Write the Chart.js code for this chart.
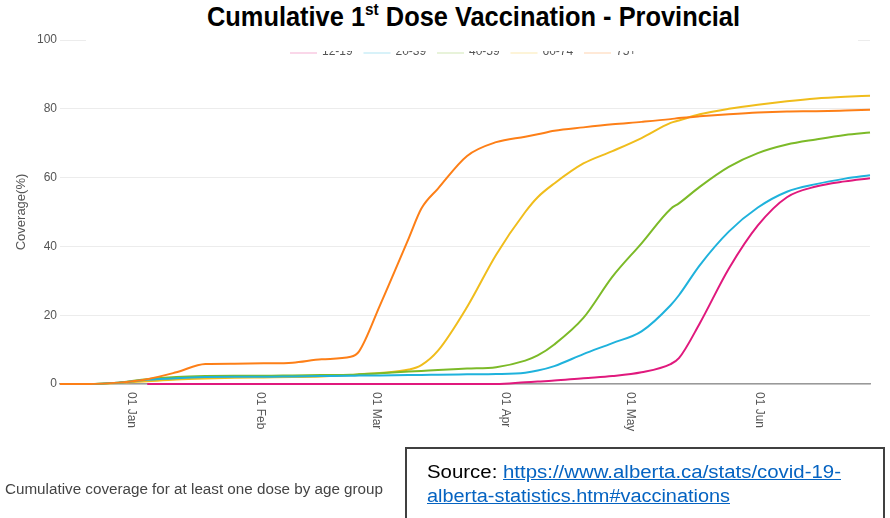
<!DOCTYPE html>
<html>
<head>
<meta charset="utf-8">
<script src="https://cdn.jsdelivr.net/npm/chart.js@4.4.1/dist/chart.umd.min.js"></script>
<style>
  html, body { margin: 0; padding: 0; background: #fff; }
  #wrap { position: relative; width: 890px; height: 518px; overflow: hidden; }
  #chart { position: absolute; left: 0; top: 0; }
  #titleBox { position: absolute; left: 86px; top: 0; width: 772px; height: 51px; background: #fff; }
  #title { position: absolute; left: 207px; top: 1px; white-space: nowrap; transform-origin: 0 0;
           font: bold 28px "Liberation Sans", Arial, sans-serif; color: #000; }
  #title sup { font-size: 17px; vertical-align: 0; position: relative; top: -11px; }
  #caption { position: absolute; left: 5px; top: 481px; white-space: nowrap; transform-origin: 0 0;
             font: 14px "Liberation Sans", Arial, sans-serif; color: #444; }
  #source { position: absolute; left: 405px; top: 447px; width: 480px; height: 90px;
            border: 2px solid #404040; box-sizing: border-box; }
  .src { position: absolute; left: 20px; white-space: nowrap; transform-origin: 0 0;
         font: 18px "Liberation Sans", Arial, sans-serif; color: #000; }
  .src a { color: #0563c1; text-decoration: underline; }
</style>
</head>
<body>
<div id="wrap">
  <canvas id="chart" width="890" height="518"></canvas>
  <div id="titleBox"></div>
  <div id="title">Cumulative 1<sup>st</sup> Dose Vaccination - Provincial</div>
  <div id="caption">Cumulative coverage for at least one dose by age group</div>
  <div id="source">
    <div class="src" id="src1" style="top:13px">Source: <a href="#">https://www.alberta.ca/stats/covid-19-</a></div>
    <div class="src" id="src2" style="top:37px"><a href="#">alberta-statistics.htm#vaccinations</a></div>
  </div>
</div>
<script>
// sample dates (mostly weekly)
const dates = ['2020-12-15','2020-12-22','2020-12-29','2021-01-05','2021-01-12','2021-01-19','2021-01-26',
  '2021-02-02','2021-02-09','2021-02-16','2021-02-23','2021-02-25','2021-03-02','2021-03-09','2021-03-12',
  '2021-03-16','2021-03-23','2021-03-30','2021-04-06','2021-04-09','2021-04-13','2021-04-20','2021-04-27',
  '2021-05-04','2021-05-11','2021-05-13','2021-05-18','2021-05-25','2021-06-01','2021-06-08','2021-06-15',
  '2021-06-22','2021-06-28'];

const ageGroups = ['12-19', '20-39', '40-59', '60-74', '75+'];
const colors = ['#e0197d', '#1fb2dc', '#7cba28', '#f0bd1c', '#fd7f17'];
const drawOrder = [0, 0, 0, 0, -1]; // 75+ sits on top of the others

const age12 = [null,null,null,0,0,0,0,0,0,0,0,0,0,0,0,0,0,0,0.5,0.7,1.0,1.7,2.3,3.4,5.8,7.5,17.6,33.5,46.1,54.3,57.4,58.9,59.8];
const age20 = [0,0,0.4,1.2,1.7,2.0,2.1,2.1,2.2,2.3,2.4,2.45,2.5,2.6,2.65,2.7,2.8,2.9,3.3,3.9,5.2,8.7,11.9,15.3,22.9,25.8,34.5,44.3,51.3,55.9,58.1,59.7,60.7];
const age40 = [0,0,0.4,1.4,2.0,2.3,2.4,2.4,2.5,2.6,2.7,2.8,3.1,3.6,3.8,4.1,4.5,4.9,6.8,8.3,11.5,19.2,31.2,40.9,50.9,52.5,57.3,63.1,67.1,69.6,71.1,72.4,73.1];
const age60 = [0,0,0.3,0.8,1.3,1.6,1.8,1.9,2.0,2.2,2.6,2.8,3.2,4.2,5.5,9.7,22.4,37.6,50.0,54.3,58.3,64.1,67.7,71.5,75.9,76.6,78.4,80.0,81.2,82.2,83.0,83.5,83.8];
const age75 = [0,0,0.4,1.4,3.4,5.8,5.9,6.0,6.2,7.2,7.9,9.5,22.8,42.5,51.0,56.8,66.3,70.3,71.9,72.6,73.6,74.6,75.5,76.2,77.0,77.3,77.8,78.4,78.9,79.2,79.3,79.5,79.7];

const tickDates = ['2021-01-01','2021-02-01','2021-03-01','2021-04-01','2021-05-01','2021-06-01'];
const tickLabels = ['01 Jan','01 Feb','01 Mar','01 Apr','01 May','01 Jun'];

const startDay = Date.UTC(2020, 11, 15);
function dayOf(s) {
  return (Date.parse(s + 'T00:00:00Z') - startDay) / 86400000;
}

const series = [age12, age20, age40, age60, age75];
const datasets = series.map((vals, i) => ({
  label: ageGroups[i],
  data: vals.map((v, j) => ({ x: dayOf(dates[j]), y: v })),
  borderColor: colors[i],
  backgroundColor: colors[i],
  borderWidth: 2,
  pointRadius: 0,
  cubicInterpolationMode: 'monotone',
  clip: false,
  order: drawOrder[i],
  fill: false
}));

// rotated date labels (read top to bottom) and the faint legend
const extras = {
  id: 'extras',
  afterDraw(chart) {
    const ctx = chart.ctx;
    const xs = chart.scales.x;
    const bottom = chart.chartArea.bottom;
    ctx.save();
    ctx.font = '12px "Liberation Sans", Arial, sans-serif';
    ctx.fillStyle = '#555';
    ctx.textAlign = 'left';
    ctx.textBaseline = 'middle';
    tickDates.forEach((d, i) => {
      const px = xs.getPixelForValue(dayOf(d));
      ctx.save();
      ctx.translate(px + 1, bottom + 8);
      ctx.rotate(Math.PI / 2);
      ctx.fillText(tickLabels[i], 0, 0);
      ctx.restore();
    });

    let lx = 290;
    const ly = 53;
    chart.data.datasets.forEach((ds) => {
      ctx.globalAlpha = 0.35;
      ctx.strokeStyle = ds.borderColor;
      ctx.lineWidth = 1;
      ctx.beginPath();
      ctx.moveTo(lx, ly);
      ctx.lineTo(lx + 27, ly);
      ctx.stroke();
      ctx.globalAlpha = 1;
      ctx.fillStyle = '#555';
      ctx.textBaseline = 'alphabetic';
      ctx.fillText(ds.label, lx + 32, ly + 2);
      lx += 73.5;
    });
    ctx.restore();
  }
};

new Chart(document.getElementById('chart'), {
  type: 'line',
  data: { datasets: datasets },
  options: {
    responsive: false,
    animation: false,
    layout: { padding: { left: 0, right: 20, top: 40, bottom: 134 } },
    plugins: { legend: { display: false }, tooltip: { enabled: false } },
    scales: {
      x: {
        type: 'linear',
        min: 0,
        max: 195,
        grid: { display: false, drawTicks: false },
        border: { display: true, color: '#999', width: 1.5 },
        ticks: { display: false },
        afterFit(scale) { scale.height = 0; }
      },
      y: {
        min: 0,
        max: 100,
        ticks: { stepSize: 20, color: '#555', padding: 3, font: { size: 12, family: '"Liberation Sans", Arial, sans-serif' } },
        grid: { color: '#ececec', drawTicks: false },
        border: { display: false },
        title: { display: true, text: 'Coverage(%)', color: '#555', padding: { top: 14, bottom: 0 },
                 font: { size: 13, family: '"Liberation Sans", Arial, sans-serif' } },
        afterFit(scale) { scale.width = 60; }
      }
    }
  },
  plugins: [extras]
});

// squeeze the overlaid texts to the widths seen in the reference
function fitWidth(id, target) {
  const el = document.getElementById(id);
  const w = el.getBoundingClientRect().width;
  el.style.transform = 'scaleX(' + (target / w) + ')';
}
fitWidth('title', 533);
fitWidth('caption', 378);
fitWidth('src1', 414);
fitWidth('src2', 303);
</script>
</body>
</html>
